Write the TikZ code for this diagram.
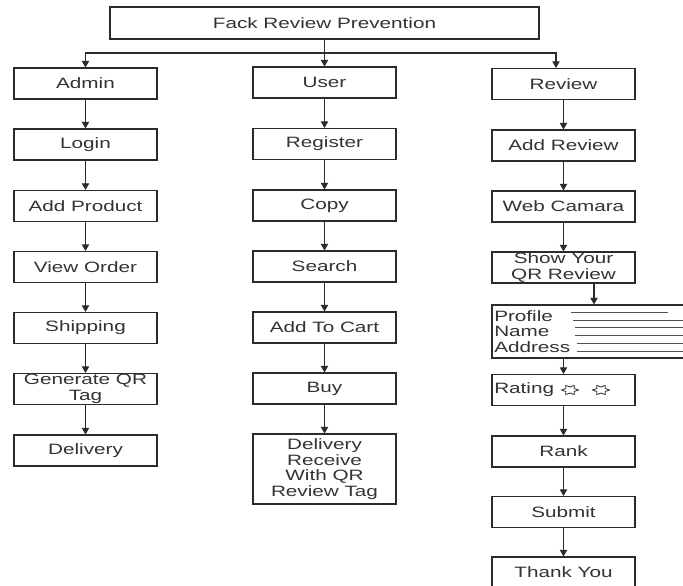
\documentclass[tikz,border=0pt]{standalone}
\usepackage{fontspec}
\setmainfont[FakeStretch=1.38]{Liberation Sans}
\usetikzlibrary{arrows.meta,calc}
\definecolor{linec}{HTML}{2B2B2B}
\definecolor{textc}{HTML}{333333}
\definecolor{grayline}{HTML}{505050}
\begin{document}
\begin{tikzpicture}[x=0.75pt,y=-0.75pt,
  box/.style={draw=linec,line width=0.8pt,minimum width=107.25pt,minimum height=23.25pt,inner sep=0pt,align=center,text=textc,font=\fontsize{11.25}{11.8}\selectfont},
  plain/.style={inner sep=0pt,align=left,text=textc,font=\fontsize{11.25}{11.8}\selectfont},
  arr/.style={draw=linec,line width=0.8pt,-{Triangle[width=5.5pt,length=5pt]}},
  pline/.style={draw=grayline,line width=0.7pt},
  starsym/.style={draw=linec,line width=0.6pt}]
\useasboundingbox (0,0) rectangle (683,586);
\clip (0,0) rectangle (683,586);
\fill[white] (0,0) rectangle (683,586);
% top
\node[box,minimum width=321.75pt,minimum height=24pt] (top) at (324.5,23) {Fack Review Prevention};
% admin column
\node[box] (admin) at (85.5,83.5) {Admin};
\node[box] (login) at (85.5,144.5) {Login};
\node[box] (addprod) at (85.5,206) {Add Product};
\node[box] (vieworder) at (85.5,267) {View Order};
\node[box] (shipping) at (85.5,328) {Shipping};
\node[box] (genqr) at (85.5,389) {Generate QR\\Tag};
\node[box] (delivery) at (85.5,450.5) {Delivery};
% user column
\node[box] (user) at (324.5,82.5) {User};
\node[box] (register) at (324.5,144) {Register};
\node[box] (copy) at (324.5,205.5) {Copy};
\node[box] (search) at (324.5,266.5) {Search};
\node[box] (cart) at (324.5,327.5) {Add To Cart};
\node[box] (buy) at (324.5,388.5) {Buy};
\node[box,minimum height=52.5pt] (recv) at (324.5,469) {Delivery\\Receive\\With QR\\Review Tag};
% review column
\node[box] (review) at (563.5,84) {Review};
\node[box] (addrev) at (563.5,145.5) {Add Review};
\node[box] (webcam) at (563.5,206.5) {Web Camara};
\node[box] (showqr) at (563.5,267.5) {Show Your\\QR Review};
\node[box,minimum width=144pt,minimum height=39.75pt] (profile) at (588,331.5) {};
\node[plain,anchor=west] (proftext) at (494,331.5) {Profile\\Name\\Address};
\node[box] (rating) at (563.5,390) {};
\node[plain,anchor=west] (ratingtext) at (494,390) {Rating};
\node[box] (rank) at (563.5,451.5) {Rank};
\node[box] (submit) at (563.5,512) {Submit};
\node[box] (thanks) at (563.5,572.5) {Thank You};
% profile lines
\draw[pline] (571,312.7) -- (668,312.7);
\draw[pline] (573,320) -- (684,320);
\draw[pline] (575,327.7) -- (684,327.7);
\draw[pline] (575,335) -- (684,335);
\draw[pline] (577,343) -- (684,343);
\draw[pline] (577,351) -- (684,351);
% rating stars
\foreach \cx in {570,601} {
  \draw[starsym,shift={(\cx,390)},xscale=1.6] (0:5.3) -- (30:3) -- (60:5.3) -- (90:3) -- (120:5.3) -- (150:3) -- (180:5.3) -- (210:3) -- (240:5.3) -- (270:3) -- (300:5.3) -- (330:3) -- cycle;
}
% top connectors
\coordinate (junction) at (324.5,53);
\coordinate (revdrop) at (556,53);
\draw[arr] (top) -- (user);
\draw[arr] (junction) -| (admin.north);
\draw[arr] (junction) -- (revdrop) -- (revdrop |- review.north);
% admin chain
\draw[arr] (admin) -- (login);
\draw[arr] (login) -- (addprod);
\draw[arr] (addprod) -- (vieworder);
\draw[arr] (vieworder) -- (shipping);
\draw[arr] (shipping) -- (genqr);
\draw[arr] (genqr) -- (delivery);
% user chain
\draw[arr] (user) -- (register);
\draw[arr] (register) -- (copy);
\draw[arr] (copy) -- (search);
\draw[arr] (search) -- (cart);
\draw[arr] (cart) -- (buy);
\draw[arr] (buy) -- (recv);
% review chain
\draw[arr] (review) -- (addrev);
\draw[arr] (addrev) -- (webcam);
\draw[arr] (webcam) -- (showqr);
\coordinate (qx) at (594,0);
\draw[arr] (showqr.south -| qx) -- (profile.north -| qx);
\draw[arr] (profile.south -| rating) -- (rating);
\draw[arr] (rating) -- (rank);
\draw[arr] (rank) -- (submit);
\draw[arr] (submit) -- (thanks);
\end{tikzpicture}
\end{document}
